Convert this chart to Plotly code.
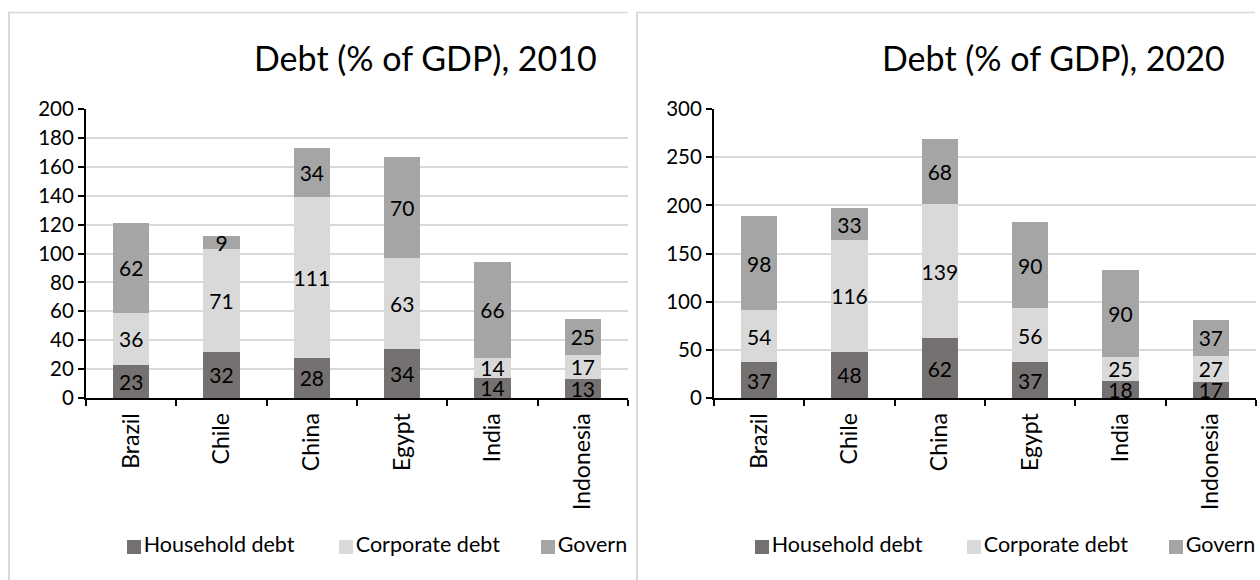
import plotly.graph_objects as go

# Debt by sector, % of GDP
countries = ["Brazil", "Chile", "China", "Egypt", "India", "Indonesia"]
series_names = ["Household debt", "Corporate debt", "Government debt"]

household_2010 = [23, 32, 28, 34, 14, 13]
corporate_2010 = [36, 71, 111, 63, 14, 17]
government_2010 = [62, 9, 34, 70, 66, 25]

household_2020 = [37, 48, 62, 37, 18, 17]
corporate_2020 = [54, 116, 139, 56, 25, 27]
government_2020 = [98, 33, 68, 90, 90, 37]

titles = ["Debt (% of GDP), 2010", "Debt (% of GDP), 2020"]
y_max = [200, 300]
y_step = [20, 50]

colors = ["#767171", "#d9d9d9", "#a5a5a5"]
FONT = "Lato"
W, H = 1260, 580


def px(x):
    return x / W


def py(y):
    return 1 - y / H


fig = go.Figure()

panels = [
    (household_2010, corporate_2010, government_2010),
    (household_2020, corporate_2020, government_2020),
]
offset = 628  # horizontal shift of the second chart
frame_left = [8, 636]
frame_right = [628, 1255]

for i, values in enumerate(panels):
    sfx = "" if i == 0 else "2"
    for name, vals, col in zip(series_names, values, colors):
        fig.add_trace(go.Bar(
            x=countries, y=vals, name=name,
            marker=dict(color=col, line=dict(width=0)),
            text=[str(v) for v in vals],
            textposition="inside", insidetextanchor="middle",
            textangle=0,
            textfont=dict(family=FONT, size=21, color="black"),
            xaxis="x" + sfx, yaxis="y" + sfx,
            hoverinfo="skip", showlegend=False,
        ))

axis_common = dict(
    showline=True, linecolor="black", linewidth=2,
    ticks="outside", tickcolor="black", tickwidth=1.5, ticklen=6,
    zeroline=False, fixedrange=True,
)

y_dom = [py(398), py(109)]
for i in range(2):
    sfx = "" if i == 0 else "2"
    x0 = 86 + offset * i
    x1 = 628 + offset * i
    fig.layout["xaxis" + sfx] = dict(
        domain=[px(x0), px(x1)], anchor="y" + sfx,
        tickson="boundaries", tickangle=-90, showgrid=False,
        ticklabelstandoff=4,
        tickfont=dict(family=FONT, size=23, color="black"),
        **axis_common,
    )
    fig.layout["yaxis" + sfx] = dict(
        domain=y_dom, anchor="x" + sfx,
        range=[0, y_max[i]], dtick=y_step[i], tick0=0,
        showgrid=True, gridcolor="#d9d9d9", gridwidth=1.5,
        tickfont=dict(family=FONT, size=20.5, color="black"),
        **axis_common,
    )

# Legend rows: one pixel-scaled strip per chart, so entries are clipped
# at the chart's right edge.
legend_y = 547
legend_swatch_x = [134, 346, 548]
for i in range(2):
    n = 3 + i
    fig.layout["xaxis%d" % n] = dict(
        domain=[px(frame_left[i]), px(frame_right[i])],
        range=[frame_left[i], frame_right[i]], anchor="y%d" % n,
        visible=False, fixedrange=True,
    )
    fig.layout["yaxis%d" % n] = dict(
        domain=[0, py(500)], range=[580, 500], anchor="x%d" % n,
        visible=False, fixedrange=True,
    )
    for name, col, sx in zip(series_names, colors, legend_swatch_x):
        fig.add_trace(go.Scatter(
            x=[sx + offset * i], y=[legend_y],
            mode="markers+text", text=[name], textposition="middle right",
            marker=dict(symbol="square", size=14, color=col),
            textfont=dict(family=FONT, size=21.5, color="black"),
            cliponaxis=True, showlegend=False, hoverinfo="skip",
            xaxis="x%d" % n, yaxis="y%d" % n,
        ))

shapes = []
annotations = []
for i in range(2):
    left = frame_left[i]
    right = frame_right[i]
    # chart frame: left and top edges
    shapes.append(dict(type="line", xref="paper", yref="paper",
                       x0=px(left + 1), x1=px(left + 1), y0=py(12), y1=py(600),
                       line=dict(color="#d9d9d9", width=2)))
    shapes.append(dict(type="line", xref="paper", yref="paper",
                       x0=px(left), x1=px(right), y0=py(12.5), y1=py(12.5),
                       line=dict(color="#d9d9d9", width=1.5)))
    annotations.append(dict(
        text=titles[i], xref="paper", yref="paper",
        x=px(425 + offset * i), y=py(58), xanchor="center", yanchor="middle",
        showarrow=False, font=dict(family=FONT, size=34, color="black"),
    ))

fig.update_layout(
    width=W, height=H,
    margin=dict(l=0, r=0, t=0, b=0, autoexpand=False),
    paper_bgcolor="white", plot_bgcolor="rgba(0,0,0,0)",
    barmode="stack", bargap=0.6,
    uniformtext=dict(minsize=21, mode="show"),
    shapes=shapes, annotations=annotations,
    showlegend=False,
)

fig.write_html("out.html", config={"displayModeBar": False})
